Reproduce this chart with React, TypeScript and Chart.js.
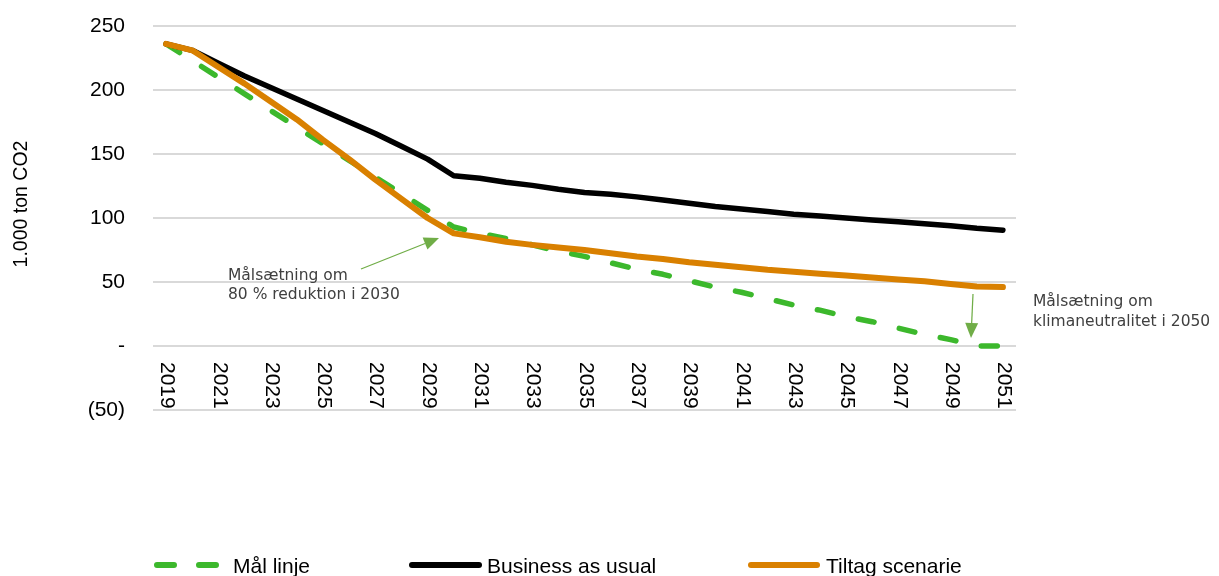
import React, { useEffect, useRef } from 'react';
import { Chart, registerables } from 'chart.js';

Chart.register(...registerables);

// ---------- data ----------
const years: string[] = [
  '2019', '2020', '2021', '2022', '2023', '2024', '2025', '2026', '2027', '2028', '2029',
  '2030', '2031', '2032', '2033', '2034', '2035', '2036', '2037', '2038', '2039', '2040',
  '2041', '2042', '2043', '2044', '2045', '2046', '2047', '2048', '2049', '2050', '2051',
];

const goalLine: number[] = [
  236, 223, 210, 197, 184, 171, 158, 145, 132, 119, 106,
  93, 88, 84, 79, 74, 70, 65, 60, 56, 51, 46,
  42, 37, 32, 28, 23, 19, 14, 9, 5, 0, 0,
];

const businessAsUsual: number[] = [
  236, 231, 221, 211, 202, 193, 184, 175, 166, 156, 146,
  133, 131, 128, 125.5, 122.5, 120, 118.5, 116.5, 114, 111.5, 109,
  107, 105, 103, 101.5, 100, 98.5, 97, 95.5, 94, 92, 90.5,
];

const measuresScenario: number[] = [
  236, 231, 218, 205, 191, 177, 161, 146, 130, 115, 100,
  88, 85, 81.5, 79, 77, 75, 72.5, 70, 68, 65.5, 63.5,
  61.5, 59.5, 58, 56.5, 55, 53.5, 52, 50.5, 48.5, 46.5, 46,
];

const seriesNames: string[] = ['Mål linje', 'Business as usual', 'Tiltag scenarie'];
const yMin = -50;
const yMax = 250;
const yStep = 50;
const xLabelEvery = 2;
const yTitle = '1.000 ton CO2';
const note2030: string[] = ['Målsætning om', '80 % reduktion i 2030'];
const note2050: string[] = ['Målsætning om', 'klimaneutralitet i 2050'];

// ---------- styles ----------
const GREEN = '#3cb82c';
const BLACK = '#000000';
const ORANGE = '#d98000';
const ARROW = '#70ad47';
const GRID = '#d9d9d9';
const SANS = '"Liberation Sans", Arial, sans-serif';
const NOTE_FONT = '15.5px "DejaVu Sans", Verdana, sans-serif';

function drawArrow(ctx: CanvasRenderingContext2D, x1: number, y1: number, x2: number, y2: number) {
  const ang = Math.atan2(y2 - y1, x2 - x1);
  const len = 15;
  const half = 6.5;
  const bx = x2 - Math.cos(ang) * len;
  const by = y2 - Math.sin(ang) * len;
  ctx.strokeStyle = ARROW;
  ctx.fillStyle = ARROW;
  ctx.lineWidth = 1.25;
  ctx.setLineDash([]);
  ctx.beginPath();
  ctx.moveTo(x1, y1);
  ctx.lineTo(bx, by);
  ctx.stroke();
  ctx.beginPath();
  ctx.moveTo(x2, y2);
  ctx.lineTo(bx + Math.sin(ang) * half, by - Math.cos(ang) * half);
  ctx.lineTo(bx - Math.sin(ang) * half, by + Math.cos(ang) * half);
  ctx.closePath();
  ctx.fill();
}

const overlayPlugin = {
  id: 'overlay',
  afterDraw(chart: any) {
    const { ctx } = chart;
    const xs = chart.scales.x;
    const ys = chart.scales.y;
    ctx.save();

    // x tick labels (rotated 90° clockwise, below the zero line)
    ctx.font = `21px ${SANS}`;
    ctx.fillStyle = '#000';
    ctx.textAlign = 'left';
    ctx.textBaseline = 'middle';
    const yTop = ys.getPixelForValue(0) + 16;
    years.forEach((lab, i) => {
      if (i % xLabelEvery !== 0) return;
      const px = xs.getPixelForValue(i);
      ctx.save();
      ctx.translate(px + 1, yTop);
      ctx.rotate(Math.PI / 2);
      ctx.fillText(lab, 0, 0);
      ctx.restore();
    });

    // y title
    ctx.save();
    ctx.font = `19.5px ${SANS}`;
    ctx.fillStyle = '#000';
    ctx.textAlign = 'center';
    ctx.textBaseline = 'middle';
    ctx.translate(22, 204);
    ctx.rotate(-Math.PI / 2);
    ctx.fillText(yTitle, 0, 0);
    ctx.restore();

    // annotations
    ctx.font = NOTE_FONT;
    ctx.fillStyle = '#404040';
    ctx.textAlign = 'left';
    ctx.textBaseline = 'alphabetic';
    ctx.fillText(note2030[0], 228, 279.5);
    ctx.fillText(note2030[1], 228, 299);
    ctx.fillText(note2050[0], 1033, 306);
    ctx.fillText(note2050[1], 1033, 326);
    drawArrow(ctx, 361, 269, 439, 238);
    drawArrow(ctx, 973, 294, 971, 338);

    // legend
    const ly = 565;
    const items = [
      { x1: 157, x2: 216, tx: 233 },
      { x1: 412, x2: 479, tx: 487 },
      { x1: 751, x2: 817, tx: 826 },
    ];
    chart.data.datasets.forEach((ds: any, i: number) => {
      const it = items[i];
      ctx.strokeStyle = ds.borderColor;
      ctx.lineWidth = 6;
      ctx.lineCap = 'round';
      ctx.setLineDash(ds.borderDash && ds.borderDash.length ? [17, 25] : []);
      ctx.beginPath();
      ctx.moveTo(it.x1, ly);
      ctx.lineTo(it.x2, ly);
      ctx.stroke();
      ctx.setLineDash([]);
      ctx.font = `21px ${SANS}`;
      ctx.fillStyle = '#000';
      ctx.textAlign = 'left';
      ctx.textBaseline = 'alphabetic';
      ctx.fillText(ds.label, it.tx, 573);
    });

    ctx.restore();
  },
};

export default function App() {
  const canvasRef = useRef<HTMLCanvasElement | null>(null);

  useEffect(() => {
    document.body.style.margin = '0';
    const canvas = canvasRef.current;
    if (!canvas) return;
    const chart = new Chart(canvas, {
      type: 'line',
      data: {
        labels: years,
        datasets: [
          {
            label: seriesNames[0],
            data: goalLine,
            borderColor: GREEN,
            backgroundColor: GREEN,
            borderWidth: 5.5,
            borderDash: [16, 26],
            borderCapStyle: 'round',
            borderJoinStyle: 'round',
            pointRadius: 0,
            tension: 0,
            order: 3,
          },
          {
            label: seriesNames[1],
            data: businessAsUsual,
            borderColor: BLACK,
            backgroundColor: BLACK,
            borderWidth: 5.5,
            borderCapStyle: 'round',
            borderJoinStyle: 'round',
            pointRadius: 0,
            tension: 0,
            order: 2,
          },
          {
            label: seriesNames[2],
            data: measuresScenario,
            borderColor: ORANGE,
            backgroundColor: ORANGE,
            borderWidth: 6,
            borderCapStyle: 'round',
            borderJoinStyle: 'round',
            pointRadius: 0,
            tension: 0,
            order: 1,
          },
        ],
      },
      options: {
        animation: false,
        responsive: true,
        maintainAspectRatio: false,
        events: [],
        layout: { padding: { left: 0, top: 26, right: 203, bottom: 166 } },
        plugins: {
          legend: { display: false },
          tooltip: { enabled: false },
          title: { display: false },
        },
        scales: {
          x: {
            type: 'category',
            display: false,
            offset: true,
          },
          y: {
            min: yMin,
            max: yMax,
            border: { display: false },
            grid: { color: GRID, lineWidth: 2, drawTicks: false },
            ticks: {
              stepSize: yStep,
              padding: 28,
              color: '#000',
              font: { family: SANS, size: 21 },
              callback: (v: any) => {
                const n = Number(v);
                if (n === 0) return '-';
                if (n < 0) return `(${-n})`;
                return String(n);
              },
            },
            afterFit: (scale: any) => {
              scale.width = 153;
              scale.paddingTop = 0;
              scale.paddingBottom = 0;
            },
          },
        },
      },
      plugins: [overlayPlugin],
    });
    return () => chart.destroy();
  }, []);

  return (
    <div style={{ position: 'fixed', left: 0, top: 0, width: 1219, height: 576, background: '#fff' }}>
      <canvas ref={canvasRef} />
    </div>
  );
}
